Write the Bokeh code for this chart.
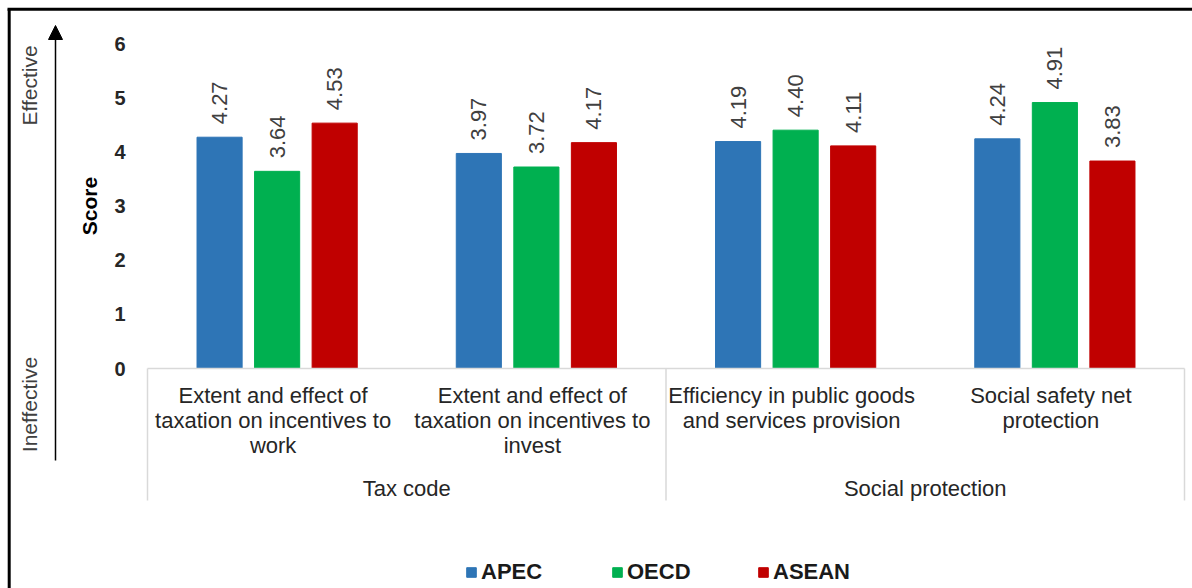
import math
from bokeh.plotting import figure
from bokeh.models import (Range1d, FixedTicker, Arrow, NormalHead,
                          Legend, LegendItem, ColumnDataSource)
from bokeh.core.properties import value
from bokeh.embed import file_html
from bokeh.resources import INLINE

# ---------------- data ----------------
category_lines = [
    ["Extent and effect of", "taxation on incentives to", "work"],
    ["Extent and effect of", "taxation on incentives to", "invest"],
    ["Efficiency in public goods", "and services provision"],
    ["Social safety net", "protection"],
]
groups = ["Tax code", "Social protection"]
group_sizes = [2, 2]
series = ["APEC", "OECD", "ASEAN"]
apec = [4.27, 3.97, 4.19, 4.24]
oecd = [3.64, 3.72, 4.40, 4.91]
asean = [4.53, 4.17, 4.11, 3.83]
y_ticks = [0, 1, 2, 3, 4, 5, 6]
colors = ["#2E75B6", "#00B050", "#C00000"]

# ---------------- layout (pixel geometry of the plot area) ----------------
W, H = 1192, 588
FL, FR, FT, FB = 147, 1184, 43, 368
NCAT = len(category_lines)
XS = (FR - FL) / NCAT
YS = (FB - FT) / (y_ticks[-1] - y_ticks[0])


def px2x(px):
    return (px - FL) / XS


def py2y(py):
    return (FB - py) / YS


FONT = "Liberation Sans"
FS = "22px"

p = figure(width=W, height=H,
           x_range=Range1d(px2x(0), px2x(W)), y_range=Range1d(py2y(H), py2y(0)),
           output_backend="svg", toolbar_location=None, x_axis_location=None,
           min_border_left=0, min_border_right=0, min_border_top=0, min_border_bottom=0)
p.outline_line_color = None
p.grid.visible = False
p.background_fill_color = "white"
p.border_fill_color = "white"

ax = p.yaxis[0]
ax.fixed_location = 0
ax.bounds = (y_ticks[0], y_ticks[-1])
ax.ticker = FixedTicker(ticks=y_ticks)
ax.axis_line_color = None
ax.major_tick_line_color = None
ax.minor_tick_line_color = None
ax.major_tick_out = 0
ax.major_tick_in = 0
ax.minor_tick_out = 0
ax.major_label_standoff = 22
ax.major_label_text_font = FONT
ax.major_label_text_font_size = "20px"
ax.major_label_text_font_style = "bold"
ax.major_label_text_color = "#262626"
ax.axis_label = "Score"
ax.axis_label_text_font = FONT
ax.axis_label_text_font_size = "21px"
ax.axis_label_text_font_style = "bold"
ax.axis_label_text_color = "#000000"
ax.axis_label_standoff = 10

# ---------------- bars ----------------
offsets = [-0.222, 0.0, 0.222]
bar_w = 0.174
renderers = []
for vals, off, col in zip([apec, oecd, asean], offsets, colors):
    xs = [i + 0.5 + off for i in range(NCAT)]
    src = ColumnDataSource(dict(x=xs, top=vals, lab=[f"{v:.2f}" for v in vals]))
    r = p.vbar(x="x", top="top", width=bar_w, source=src, fill_color=col, line_color=col)
    renderers.append(r)
    p.text(x="x", y="top", text="lab", source=src, angle=math.pi / 2,
           text_align="left", text_baseline="middle", y_offset=-13,
           text_font=value(FONT), text_font_size=FS, text_color="#404040")


def texts(xs, ys, labels, angle=0.0, color="#262626", size=FS, x_offset=0):
    p.text(x=xs, y=ys, text=labels, angle=angle, text_align="center", text_baseline="middle",
           x_offset=x_offset, text_font=value(FONT), text_font_size=size, text_color=color)


# ---------------- category axis (Excel style) ----------------
line_px = [395, 420, 445]
cx, cy, ct = [], [], []
for i, lines in enumerate(category_lines):
    for j, t in enumerate(lines):
        cx.append(i + 0.5)
        cy.append(py2y(line_px[j]))
        ct.append(t)
texts(cx, cy, ct, x_offset=-4)

gx, start = [], 0
for n in group_sizes:
    gx.append(start + n / 2)
    start += n
texts(gx, [py2y(488)] * len(groups), groups)

sep_color = "#d9d9d9"
bounds = [0]
for n in group_sizes:
    bounds.append(bounds[-1] + n)
p.segment(x0=[0], y0=[0], x1=[NCAT], y1=[0], line_color=sep_color, line_width=1.5)
p.segment(x0=bounds, y0=[0] * len(bounds), x1=bounds, y1=[py2y(500)] * len(bounds),
          line_color=sep_color, line_width=1.5)

# ---------------- effective / ineffective arrow ----------------
p.add_layout(Arrow(end=NormalHead(size=14, fill_color="black", line_color="black"),
                   x_start=px2x(55), y_start=py2y(460), x_end=px2x(55), y_end=py2y(25),
                   line_color="black", line_width=1.5))
texts([px2x(29), px2x(29)], [py2y(85), py2y(404)], ["Effective", "Ineffective"],
      angle=math.pi / 2, color="#404040", size="21px")

# ---------------- frame border (top & left) ----------------
p.segment(x0=[px2x(8.7), px2x(7)], y0=[py2y(8.7), py2y(8.7)],
          x1=[px2x(8.7), px2x(1200)], y1=[py2y(600), py2y(8.7)],
          line_color="black", line_width=3)

# ---------------- legend ----------------
legend = Legend(items=[LegendItem(label=s, renderers=[r]) for s, r in zip(series, renderers)],
                orientation="horizontal", location=(465, 3),
                glyph_width=12, glyph_height=12, label_standoff=4, spacing=0,
                label_width=130, padding=0, margin=0,
                border_line_color=None, background_fill_alpha=0,
                label_text_font=FONT, label_text_font_size=FS,
                label_text_font_style="bold", label_text_color="#1a1a1a")
p.add_layout(legend)

open("out.html", "w").write(file_html(p, INLINE))
